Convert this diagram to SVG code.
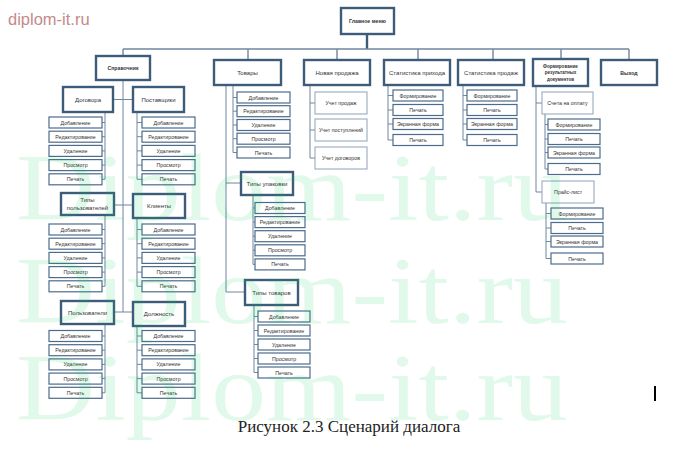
<svg xmlns="http://www.w3.org/2000/svg" width="677" height="460" viewBox="0 0 677 460">
<style>
.m{fill:#fff;stroke:#3d5c7a;stroke-width:2.4}
.c{fill:#fff;stroke:#4d6b8a;stroke-width:1.2}
.l{fill:#fff;stroke:#8ea3b9;stroke-width:1}
.ln{fill:none;stroke:#6f879f;stroke-width:1}
.tk{fill:none;stroke:#3d5c7a;stroke-width:2.4}
text{font-family:"Liberation Sans",Arial,sans-serif;fill:#333;text-anchor:middle}
.t{font-size:6px}
.tb{font-size:5.2px;font-weight:bold}
.ct{font-size:5.3px}
.wm{font-family:"Liberation Serif","Times New Roman",serif;font-size:95px;fill:#00d050;fill-opacity:0.12;text-anchor:start}
</style>
<rect width="677" height="460" fill="#fff"/>
<text x="8" y="25" style="font-size:16.5px;fill:#c48a8a;text-anchor:start">diplom-it.ru</text>

<g id="connectors">
<path class="tk" d="M367,34V49"/>
<path class="ln" d="M123,49H629M123,49V56M248,49V60M337,49V60M418,49V60M493,49V60M561,49V59M629,49V60" style="stroke-width:1.4"/>
<path class="ln" d="M123,80V312M113,99.5H133M114,205H133M114,312H133"/>
<path class="ln" d="M105,112V179.3M102,122.5H105M102,136.7H105M102,150.9H105M102,165.1H105M102,179.3H105"/>
<path class="ln" d="M137,112V179.3M137,122.5H142M137,136.7H142M137,150.9H142M137,165.1H142M137,179.3H142"/>
<path class="ln" d="M105,215V286.3M102,229.5H105M102,243.7H105M102,257.9H105M102,272.1H105M102,286.3H105"/>
<path class="ln" d="M137,218V286.3M137,229.5H142M137,243.7H142M137,257.9H142M137,272.1H142M137,286.3H142"/>
<path class="ln" d="M105,324V392.8M102,336H105M102,350.2H105M102,364.4H105M102,378.6H105M102,392.8H105"/>
<path class="ln" d="M137,326V392.8M137,336H142M137,350.2H142M137,364.4H142M137,378.6H142M137,392.8H142"/>
<path class="ln" d="M226,85V292H245M226,183H241"/>
<path class="ln" d="M233,85V152.5M233,97.5H237M233,111.2H237M233,125H237M233,138.7H237M233,152.5H237"/>
<path class="ln" d="M253,195V264.4M253,208H255M253,222.1H255M253,236.2H255M253,250.3H255M253,264.4H255"/>
<path class="ln" d="M254,305V372.5M254,316.5H258M254,330.5H258M254,344.5H258M254,358.5H258M254,372.5H258"/>
<path class="ln" d="M310,85V158M310,103H315M310,130H315M310,158H315"/>
<path class="ln" d="M388,85V140M388,95.5H393M388,110H393M388,124H393M388,140H393"/>
<path class="ln" d="M463,85V140M463,95.5H467M463,110H467M463,124H467M463,140H467"/>
<path class="ln" d="M536,86V192H542M536,103H542"/>
<path class="ln" d="M545,114V169M545,124.5H548M545,139H548M545,152.5H548M545,169H548"/>
<path class="ln" d="M546,203V258.5M546,213.5H551M546,228H551M546,241.5H551M546,258.5H551"/>
</g>

<g id="main"><rect class="m" x="341" y="8" width="53" height="26"/><text class="tb" x="367.5" y="23">Главное меню</text></g>
<g id="spravochnik"><rect class="m" x="96" y="56" width="54" height="24"/><text class="tb" x="123" y="70">Справочник</text></g>
<g id="tovary"><rect class="m" x="214" y="60" width="67" height="25"/><text class="t" x="247.5" y="75">Товары</text></g>
<g id="novaya"><rect class="m" x="304" y="60" width="66" height="25"/><text class="t" x="337" y="75">Новая продажа</text></g>
<g id="stat-prihod"><rect class="m" x="384" y="60" width="66" height="25"/><text class="t" x="417" y="75">Статистика прихода</text></g>
<g id="stat-prodazh"><rect class="m" x="458" y="60" width="66" height="25"/><text class="t" x="491" y="75">Статистика продаж</text></g>
<g id="formir"><rect class="m" x="533" y="59" width="55" height="27"/><text class="tb" x="560.5" y="67.5" style="font-size:4.6px">Формирование</text><text class="tb" x="560.5" y="74" style="font-size:4.6px">результатных</text><text class="tb" x="560.5" y="80.5" style="font-size:4.6px">документов</text></g>
<g id="vyhod"><rect class="m" x="601" y="60" width="56" height="25"/><text class="tb" x="629" y="74.5">Выход</text></g>

<g id="dogovora"><rect class="m" x="63" y="87" width="50" height="25"/><text class="t" x="88" y="102">Договора</text></g>
<g id="postavshiki"><rect class="m" x="133" y="87" width="51" height="25"/><text class="t" x="158.5" y="102">Поставщики</text></g>
<g id="tipy-polz"><rect class="m" x="61" y="193" width="53" height="22"/><text class="t" x="87.5" y="202">Типы</text><text class="t" x="87.5" y="210">пользователей</text></g>
<g id="klienty"><rect class="m" x="133" y="194" width="52" height="24"/><text class="t" x="159" y="208">Клиенты</text></g>
<g id="polzovateli"><rect class="m" x="61" y="301" width="53" height="23"/><text class="t" x="87.5" y="315">Пользователи</text></g>
<g id="dolzhnost"><rect class="m" x="133" y="302" width="52" height="24"/><text class="t" x="159" y="316">Должность</text></g>

<g id="dog-1"><rect class="c" x="49" y="117" width="53" height="11"/><text class="ct" x="75.5" y="124.5">Добавление</text></g>
<g id="dog-2"><rect class="c" x="49" y="131.2" width="53" height="11"/><text class="ct" x="75.5" y="138.7">Редактирование</text></g>
<g id="dog-3"><rect class="c" x="49" y="145.4" width="53" height="11"/><text class="ct" x="75.5" y="152.9">Удаление</text></g>
<g id="dog-4"><rect class="c" x="49" y="159.6" width="53" height="11"/><text class="ct" x="75.5" y="167.1">Просмотр</text></g>
<g id="dog-5"><rect class="c" x="49" y="173.8" width="53" height="11"/><text class="ct" x="75.5" y="181.3">Печать</text></g>
<g id="post-1"><rect class="c" x="142" y="117" width="53" height="11"/><text class="ct" x="168.5" y="124.5">Добавление</text></g>
<g id="post-2"><rect class="c" x="142" y="131.2" width="53" height="11"/><text class="ct" x="168.5" y="138.7">Редактирование</text></g>
<g id="post-3"><rect class="c" x="142" y="145.4" width="53" height="11"/><text class="ct" x="168.5" y="152.9">Удаление</text></g>
<g id="post-4"><rect class="c" x="142" y="159.6" width="53" height="11"/><text class="ct" x="168.5" y="167.1">Просмотр</text></g>
<g id="post-5"><rect class="c" x="142" y="173.8" width="53" height="11"/><text class="ct" x="168.5" y="181.3">Печать</text></g>

<g id="tp-1"><rect class="c" x="49" y="224" width="53" height="11"/><text class="ct" x="75.5" y="231.5">Добавление</text></g>
<g id="tp-2"><rect class="c" x="49" y="238.2" width="53" height="11"/><text class="ct" x="75.5" y="245.7">Редактирование</text></g>
<g id="tp-3"><rect class="c" x="49" y="252.4" width="53" height="11"/><text class="ct" x="75.5" y="259.9">Удаление</text></g>
<g id="tp-4"><rect class="c" x="49" y="266.6" width="53" height="11"/><text class="ct" x="75.5" y="274.1">Просмотр</text></g>
<g id="tp-5"><rect class="c" x="49" y="280.8" width="53" height="11"/><text class="ct" x="75.5" y="288.3">Печать</text></g>
<g id="kl-1"><rect class="c" x="142" y="224" width="53" height="11"/><text class="ct" x="168.5" y="231.5">Добавление</text></g>
<g id="kl-2"><rect class="c" x="142" y="238.2" width="53" height="11"/><text class="ct" x="168.5" y="245.7">Редактирование</text></g>
<g id="kl-3"><rect class="c" x="142" y="252.4" width="53" height="11"/><text class="ct" x="168.5" y="259.9">Удаление</text></g>
<g id="kl-4"><rect class="c" x="142" y="266.6" width="53" height="11"/><text class="ct" x="168.5" y="274.1">Просмотр</text></g>
<g id="kl-5"><rect class="c" x="142" y="280.8" width="53" height="11"/><text class="ct" x="168.5" y="288.3">Печать</text></g>

<g id="pz-1"><rect class="c" x="49" y="330.5" width="53" height="11"/><text class="ct" x="75.5" y="338">Добавление</text></g>
<g id="pz-2"><rect class="c" x="49" y="344.7" width="53" height="11"/><text class="ct" x="75.5" y="352.2">Редактирование</text></g>
<g id="pz-3"><rect class="c" x="49" y="358.9" width="53" height="11"/><text class="ct" x="75.5" y="366.4">Удаление</text></g>
<g id="pz-4"><rect class="c" x="49" y="373.1" width="53" height="11"/><text class="ct" x="75.5" y="380.6">Просмотр</text></g>
<g id="pz-5"><rect class="c" x="49" y="387.3" width="53" height="11"/><text class="ct" x="75.5" y="394.8">Печать</text></g>
<g id="dl-1"><rect class="c" x="142" y="330.5" width="53" height="11"/><text class="ct" x="168.5" y="338">Добавление</text></g>
<g id="dl-2"><rect class="c" x="142" y="344.7" width="53" height="11"/><text class="ct" x="168.5" y="352.2">Редактирование</text></g>
<g id="dl-3"><rect class="c" x="142" y="358.9" width="53" height="11"/><text class="ct" x="168.5" y="366.4">Удаление</text></g>
<g id="dl-4"><rect class="c" x="142" y="373.1" width="53" height="11"/><text class="ct" x="168.5" y="380.6">Просмотр</text></g>
<g id="dl-5"><rect class="c" x="142" y="387.3" width="53" height="11"/><text class="ct" x="168.5" y="394.8">Печать</text></g>

<g id="tv-1"><rect class="c" x="237" y="92" width="53" height="11"/><text class="ct" x="263.5" y="99.5">Добавление</text></g>
<g id="tv-2"><rect class="c" x="237" y="105.7" width="53" height="11"/><text class="ct" x="263.5" y="113.2">Редактирование</text></g>
<g id="tv-3"><rect class="c" x="237" y="119.5" width="53" height="11"/><text class="ct" x="263.5" y="127">Удаление</text></g>
<g id="tv-4"><rect class="c" x="237" y="133.2" width="53" height="11"/><text class="ct" x="263.5" y="140.7">Просмотр</text></g>
<g id="tv-5"><rect class="c" x="237" y="147" width="53" height="11"/><text class="ct" x="263.5" y="154.5">Печать</text></g>

<g id="tipy-upak"><rect class="m" x="241" y="172" width="52" height="23"/><text class="t" x="267" y="186">Типы упаковки</text></g>
<g id="tu-1"><rect class="c" x="255" y="202.5" width="50" height="11"/><text class="ct" x="280" y="210">Добавление</text></g>
<g id="tu-2"><rect class="c" x="255" y="216.6" width="50" height="11"/><text class="ct" x="280" y="224.1">Редактирование</text></g>
<g id="tu-3"><rect class="c" x="255" y="230.7" width="50" height="11"/><text class="ct" x="280" y="238.2">Удаление</text></g>
<g id="tu-4"><rect class="c" x="255" y="244.8" width="50" height="11"/><text class="ct" x="280" y="252.3">Просмотр</text></g>
<g id="tu-5"><rect class="c" x="255" y="258.9" width="50" height="11"/><text class="ct" x="280" y="266.4">Печать</text></g>

<g id="tipy-tov"><rect class="m" x="245" y="280" width="53" height="25"/><text class="t" x="271.5" y="295">Типы товаров</text></g>
<g id="tt-1"><rect class="c" x="258" y="311" width="52" height="11"/><text class="ct" x="284" y="318.5">Добавление</text></g>
<g id="tt-2"><rect class="c" x="258" y="325" width="52" height="11"/><text class="ct" x="284" y="332.5">Редактирование</text></g>
<g id="tt-3"><rect class="c" x="258" y="339" width="52" height="11"/><text class="ct" x="284" y="346.5">Удаление</text></g>
<g id="tt-4"><rect class="c" x="258" y="353" width="52" height="11"/><text class="ct" x="284" y="360.5">Просмотр</text></g>
<g id="tt-5"><rect class="c" x="258" y="367" width="52" height="11"/><text class="ct" x="284" y="374.5">Печать</text></g>

<g id="np-1"><rect class="l" x="315" y="92" width="52" height="22"/><text class="ct" x="341" y="105">Учет продаж</text></g>
<g id="np-2"><rect class="l" x="315" y="119" width="52" height="22"/><text class="ct" x="341" y="132">Учет поступлений</text></g>
<g id="np-3"><rect class="l" x="315" y="147" width="52" height="22"/><text class="ct" x="341" y="160">Учет договоров</text></g>

<g id="sp-1"><rect class="c" x="393" y="90" width="50" height="11"/><text class="ct" x="418" y="97.5">Формирование</text></g>
<g id="sp-2"><rect class="c" x="393" y="104.5" width="50" height="11"/><text class="ct" x="418" y="112">Печать</text></g>
<g id="sp-3"><rect class="c" x="393" y="118.5" width="50" height="11"/><text class="ct" x="418" y="126">Экранная форма</text></g>
<g id="sp-4"><rect class="c" x="393" y="134.5" width="50" height="11"/><text class="ct" x="418" y="142">Печать</text></g>
<g id="sd-1"><rect class="c" x="467" y="90" width="50" height="11"/><text class="ct" x="492" y="97.5">Формирование</text></g>
<g id="sd-2"><rect class="c" x="467" y="104.5" width="50" height="11"/><text class="ct" x="492" y="112">Печать</text></g>
<g id="sd-3"><rect class="c" x="467" y="118.5" width="50" height="11"/><text class="ct" x="492" y="126">Экранная форма</text></g>
<g id="sd-4"><rect class="c" x="467" y="134.5" width="50" height="11"/><text class="ct" x="492" y="142">Печать</text></g>

<g id="scheta"><rect class="l" x="542" y="92" width="51" height="22"/><text class="ct" x="567.5" y="105">Счета на оплату</text></g>
<g id="sc-1"><rect class="c" x="548" y="119" width="52" height="11"/><text class="ct" x="574" y="126.5">Формирование</text></g>
<g id="sc-2"><rect class="c" x="548" y="133.5" width="52" height="11"/><text class="ct" x="574" y="141">Печать</text></g>
<g id="sc-3"><rect class="c" x="548" y="147" width="52" height="11"/><text class="ct" x="574" y="154.5">Экранная форма</text></g>
<g id="sc-4"><rect class="c" x="548" y="163.5" width="52" height="11"/><text class="ct" x="574" y="171">Печать</text></g>
<g id="prais"><rect class="l" x="542" y="181" width="52" height="22"/><text class="ct" x="568" y="194">Прайс-лист</text></g>
<g id="pr-1"><rect class="c" x="551" y="208" width="52" height="11"/><text class="ct" x="577" y="215.5">Формирование</text></g>
<g id="pr-2"><rect class="c" x="551" y="222.5" width="52" height="11"/><text class="ct" x="577" y="230">Печать</text></g>
<g id="pr-3"><rect class="c" x="551" y="236" width="52" height="11"/><text class="ct" x="577" y="243.5">Экранная форма</text></g>
<g id="pr-4"><rect class="c" x="551" y="253" width="52" height="11"/><text class="ct" x="577" y="260.5">Печать</text></g>

<text x="349" y="432" style="font-family:'Liberation Serif','Times New Roman',serif;font-size:17px;fill:#222">Рисунок 2.3 Сценарий диалога</text>
<line x1="655" y1="386" x2="655" y2="401" stroke="#000" stroke-width="2"/>

<text class="wm" x="16" y="220" textLength="552" lengthAdjust="spacingAndGlyphs">Diplom-it.ru</text>
<text class="wm" x="16" y="323" textLength="552" lengthAdjust="spacingAndGlyphs">Diplom-it.ru</text>
<text class="wm" x="16" y="420" textLength="552" lengthAdjust="spacingAndGlyphs">Diplom-it.ru</text>
</svg>
